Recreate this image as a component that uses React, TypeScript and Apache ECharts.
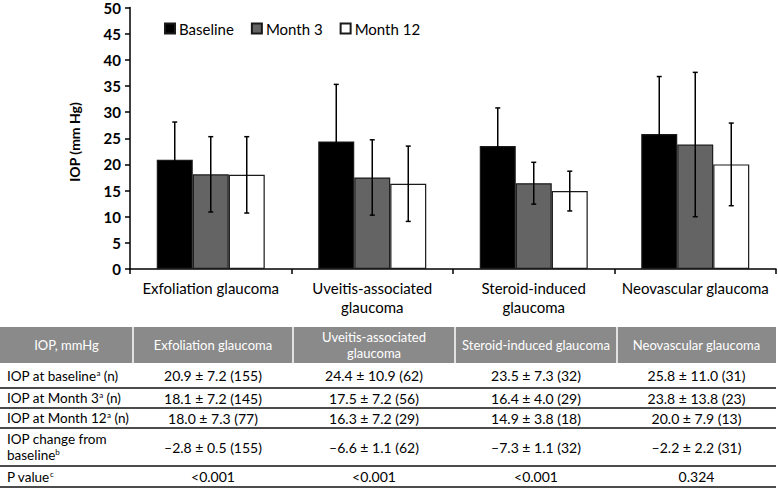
import React, { useEffect, useRef } from 'react';
import * as echarts from 'echarts';

const categories = ['Exfoliation glaucoma', 'Uveitis-associated\nglaucoma', 'Steroid-induced\nglaucoma', 'Neovascular glaucoma'];
const tableHeaders = ['IOP, mmHg', 'Exfoliation glaucoma', 'Uveitis-associated\nglaucoma', 'Steroid-induced glaucoma', 'Neovascular glaucoma'];
const seriesNames = ['Baseline', 'Month 3', 'Month 12'];
const baselineMean = [20.9, 24.4, 23.5, 25.8];
const baselineSD = [7.2, 10.9, 7.3, 11.0];
const baselineN = [155, 62, 32, 31];
const month3Mean = [18.1, 17.5, 16.4, 23.8];
const month3SD = [7.2, 7.2, 4.0, 13.8];
const month3N = [145, 56, 29, 23];
const month12Mean = [18.0, 16.3, 14.9, 20.0];
const month12SD = [7.3, 7.2, 3.8, 7.9];
const month12N = [77, 29, 18, 13];
const changeMean = [-2.8, -6.6, -7.3, -2.2];
const changeSE = [0.5, 1.1, 1.1, 2.2];
const changeN = [155, 62, 32, 31];
const pValues = ['<0.001', '<0.001', '<0.001', '0.324'];
// each row label may have several lines
const rowLabels = [
  ['IOP at baseline{sup|a} (n)'],
  ['IOP at Month 3{sup|a} (n)'],
  ['IOP at Month 12{sup|a} (n)'],
  ['IOP change from', 'baseline{sup|b}'],
  ['P value{sup|c}'],
];
const yMin = 0;
const yMax = 50;
const yInterval = 5;

const FONT = 'Lato, "Open Sans", sans-serif';

export default function App() {
  const ref = useRef<HTMLDivElement>(null);
  useEffect(() => {
    if (!ref.current) return;
    const chart = echarts.init(ref.current, undefined, { renderer: 'svg' });
    const means = [baselineMean, month3Mean, month12Mean];
    const sds = [baselineSD, month3SD, month12SD];
    const colors = ['#000000', '#646464', '#ffffff'];
    const BAR_W = 36;

    const errData: number[][] = [];
    means.forEach((m, si) => {
      m.forEach((v, ci) => {
        errData.push([ci, v - sds[si][ci], v + sds[si][ci], si]);
      });
    });

    const fmt = (v: number) => (v < 0 ? '\u2013' + Math.abs(v).toFixed(1) : v.toFixed(1));
    const cell = (m: number, s: number, n: number) => `${fmt(m)} \u00b1 ${s.toFixed(1)} (${n})`;
    const rows: string[][] = [
      baselineMean.map((m, i) => cell(m, baselineSD[i], baselineN[i])),
      month3Mean.map((m, i) => cell(m, month3SD[i], month3N[i])),
      month12Mean.map((m, i) => cell(m, month12SD[i], month12N[i])),
      changeMean.map((m, i) => cell(m, changeSE[i], changeN[i])),
      pValues,
    ];

    // table geometry
    const tLeft = 0;
    const tRight = 776;
    const colEdges = [0, 133, 293, 455, 617, 776];
    const headerTop = 327;
    const headerBottom = 363;
    const rowBottoms = [388, 408, 428, 466, 487];
    const rowTops = [headerBottom, ...rowBottoms.slice(0, -1)];

    const graphics: any[] = [];
    graphics.push({
      type: 'text',
      x: 74,
      y: 142,
      rotation: Math.PI / 2,
      style: {
        text: 'IOP (mm Hg)',
        font: `bold 14px ${FONT}`,
        fill: '#000',
        align: 'center',
        verticalAlign: 'middle',
      },
    });
    graphics.push({
      type: 'rect',
      shape: { x: tLeft, y: headerTop, width: tRight - tLeft, height: headerBottom - headerTop },
      style: { fill: '#8a8a8a' },
    });
    for (let c = 1; c < colEdges.length - 1; c++) {
      graphics.push({
        type: 'line',
        shape: { x1: colEdges[c], y1: headerTop, x2: colEdges[c], y2: headerBottom },
        style: { stroke: '#ffffff', lineWidth: 1.5 },
      });
    }
    tableHeaders.forEach((h, c) => {
      graphics.push({
        type: 'text',
        x: (colEdges[c] + colEdges[c + 1]) / 2,
        y: (headerTop + headerBottom) / 2,
        style: {
          text: h,
          font: `13px ${FONT}`,
          fill: '#ffffff',
          align: 'center',
          verticalAlign: 'middle',
          lineHeight: 16,
        },
      });
    });
    rowBottoms.forEach((yb) => {
      graphics.push({
        type: 'line',
        shape: { x1: tLeft, y1: yb, x2: tRight, y2: yb },
        style: { stroke: '#111', lineWidth: 1.5 },
      });
    });
    rowLabels.forEach((lines, r) => {
      const yc = (rowTops[r] + rowBottoms[r]) / 2;
      const lh = 16.5;
      lines.forEach((lab, li) => {
        const y = yc + (li - (lines.length - 1) / 2) * lh;
        graphics.push({
          type: 'text',
          x: 7,
          y,
          style: {
            text: lab,
            font: `13.5px ${FONT}`,
            fill: '#000',
            align: 'left',
            verticalAlign: 'middle',
            rich: {
              sup: { fontSize: 8, fontFamily: FONT, verticalAlign: 'top', fill: '#000' },
            },
          },
        });
      });
      rows[r].forEach((t, c) => {
        graphics.push({
          type: 'text',
          x: (colEdges[c + 1] + colEdges[c + 2]) / 2,
          y: yc,
          style: {
            text: t,
            font: `14px ${FONT}`,
            fill: '#000',
            align: 'center',
            verticalAlign: 'middle',
          },
        });
      });
    });

    const option: any = {
      animation: false,
      textStyle: { fontFamily: FONT },
      grid: { left: 130, right: 2, top: 5, bottom: 220, containLabel: false },
      legend: {
        data: seriesNames,
        left: 159,
        top: 16,
        icon: 'rect',
        itemWidth: 10,
        itemHeight: 10,
        itemGap: 17,
        textStyle: { fontSize: 15, color: '#000', fontFamily: FONT, padding: [0, 0, 0, -1] },
      },
      xAxis: {
        type: 'category',
        data: categories,
        axisLine: { lineStyle: { color: '#000', width: 1.5 } },
        axisTick: { show: true, length: 5, lineStyle: { color: '#000', width: 1.5 } },
        axisLabel: { color: '#000', fontSize: 15, margin: 9, lineHeight: 19, interval: 0, fontFamily: FONT },
      },
      yAxis: {
        type: 'value',
        min: yMin,
        max: yMax,
        interval: yInterval,
        splitLine: { show: false },
        axisLine: { show: true, lineStyle: { color: '#000', width: 1.5 } },
        axisTick: { show: true, length: 5, lineStyle: { color: '#000', width: 1.5 } },
        axisLabel: { color: '#000', fontSize: 15, fontWeight: 'bold', margin: 9, fontFamily: FONT },
      },
      series: [
        ...seriesNames.map((name, i) => ({
          type: 'bar',
          name,
          data: means[i],
          barWidth: BAR_W,
          barGap: '0%',
          itemStyle: { color: colors[i], borderColor: '#1a1a1a', borderWidth: 1.2 },
        })),
        {
          type: 'custom',
          z: 10,
          silent: true,
          data: errData,
          encode: { x: 0, y: [1, 2] },
          renderItem: (params: any, api: any) => {
            const ci = api.value(0);
            const si = api.value(3);
            const lo = api.coord([ci, api.value(1)]);
            const hi = api.coord([ci, api.value(2)]);
            const x = lo[0] + (si - 1) * BAR_W;
            const cap = 2.5;
            const st = { stroke: '#000', lineWidth: 1.5 };
            return {
              type: 'group',
              children: [
                { type: 'line', shape: { x1: x, y1: lo[1], x2: x, y2: hi[1] }, style: st },
                { type: 'line', shape: { x1: x - cap, y1: hi[1], x2: x + cap, y2: hi[1] }, style: st },
                { type: 'line', shape: { x1: x - cap, y1: lo[1], x2: x + cap, y2: lo[1] }, style: st },
              ],
            };
          },
        },
      ],
      graphic: graphics,
    };
    chart.setOption(option);
    return () => chart.dispose();
  }, []);
  return <div ref={ref} style={{ position: 'fixed', left: 0, top: 0, width: 778, height: 489, background: '#fff' }} />;
}
